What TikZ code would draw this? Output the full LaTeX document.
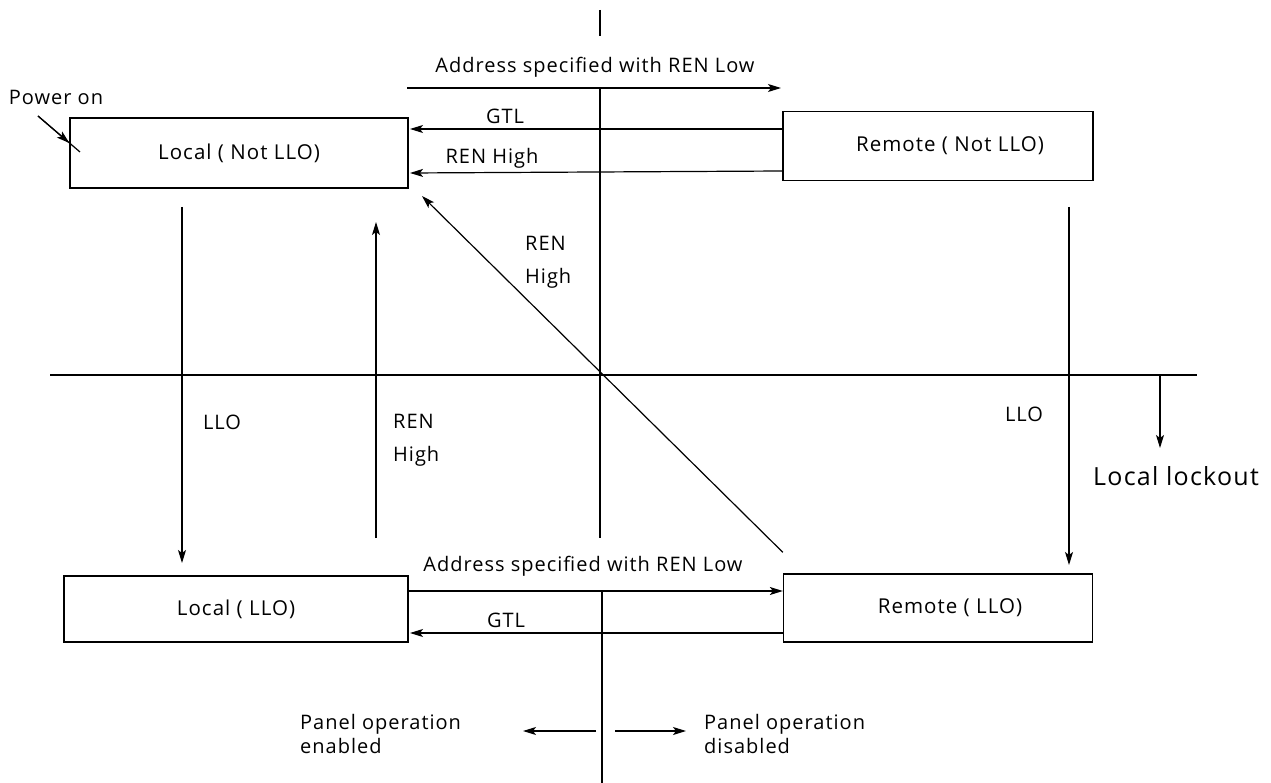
\documentclass[tikz,border=0pt]{standalone}
\usepackage{fontspec}
\setmainfont[LetterSpace=5]{Open Sans}
\usetikzlibrary{arrows.meta}
\tikzset{
  statebox/.style={draw, line width=1.3pt, minimum width=#1, inner sep=0pt, font=\fontsize{20.5}{24}\selectfont},
  conn/.style={line width=1.2pt, -{Stealth[length=13pt,width=8pt,inset=3pt]}},
  plain/.style={line width=1.2pt},
  lbl/.style={font=\fontsize{20}{24}\selectfont, inner sep=0pt, align=left},
  biglbl/.style={font=\fontsize{25}{28}\selectfont, inner sep=0pt}
}
\begin{document}
\begin{tikzpicture}[x=1pt,y=-1pt]
\useasboundingbox (0,0) rectangle (1271,783);
% state boxes
\node[statebox=338pt, minimum height=70pt] (lnl) at (239,153) {Local ( Not LLO)};
\node[statebox=310pt, minimum height=69pt] (rnl) at (938,146) {\hspace{24pt}Remote ( Not LLO)};
\node[statebox=344pt, minimum height=66pt] (ll) at (236,609) {Local ( LLO)};
\node[statebox=309pt, minimum height=68pt] (rl) at (938,608) {\hspace{24pt}Remote ( LLO)};
% axes
\coordinate (vt1) at (600,10); \coordinate (vt2) at (600,36);
\coordinate (vm1) at (600,88); \coordinate (vm2) at (600,538);
\coordinate (vb1) at (602,591); \coordinate (vb2) at (602,783);
\coordinate (h1) at (50,375); \coordinate (h2) at (1197,375);
\draw[plain] (vt1) -- (vt2);
\draw[plain] (vm1) -- (vm2);
\draw[plain] (vb1) -- (vb2);
\draw[plain] (h1) -- (h2);
% power on
\node[lbl] (pw) at (56,97) {Power on};
\coordinate (pws) at (38,116);
\coordinate (pwe) at (80,152);
\draw[plain] (pws) -- (pwe);
\draw[conn] (pws) -- (lnl.west |- 0,143);
% top arrows
\coordinate (a1s) at (407,88); \coordinate (a1e) at (781,88);
\draw[conn] (a1s) -- (a1e);
\node[lbl] (a1l) at (595,67) {Address specified with REN Low};
\draw[conn] (rnl.west |- 0,129) -- (410,129);
\node[lbl] (g1l) at (505,116) {GTL};
\draw[conn] (rnl.west |- 0,171) -- (410,173);
\node[lbl] (r1l) at (492,158) {REN High};
% verticals
\draw[conn] (182,207) -- (182,563);
\node[lbl] (llo1) at (222,422) {LLO};
\draw[conn] (376,538) -- (376,222);
\node[lbl, anchor=west] (rh1) at (393,440) {REN\\[9pt]High};
\draw[conn] (rl.north west) ++(0,-21) -- (422,196);
\node[lbl, anchor=west] (rh2) at (525,262) {REN\\[9pt]High};
\draw[conn] (1069,207) -- (1069,565);
\node[lbl] (llo2) at (1024,414) {LLO};
% local lockout
\coordinate (lls) at (1160,375); \coordinate (lle) at (1160,448);
\draw[conn] (lls) -- (lle);
\node[biglbl] (lll) at (1176,476) {Local lockout};
% bottom arrows
\draw[conn] (ll.east |- 0,591) -- (rl.west |- 0,591);
\node[lbl] (a2l) at (583,566) {Address specified with REN Low};
\draw[conn] (rl.west |- 0,633) -- (410,633);
\node[lbl] (g2l) at (506,620) {GTL};
% panel operation
\coordinate (pe1) at (596,731); \coordinate (pe2) at (523,731);
\coordinate (pd1) at (615,731); \coordinate (pd2) at (686,731);
\draw[conn] (pe1) -- (pe2);
\draw[conn] (pd1) -- (pd2);
\node[lbl, anchor=west] (pel) at (300,734) {Panel operation\\enabled};
\node[lbl, anchor=west] (pdl) at (704,734) {Panel operation\\disabled};
\end{tikzpicture}
\end{document}
